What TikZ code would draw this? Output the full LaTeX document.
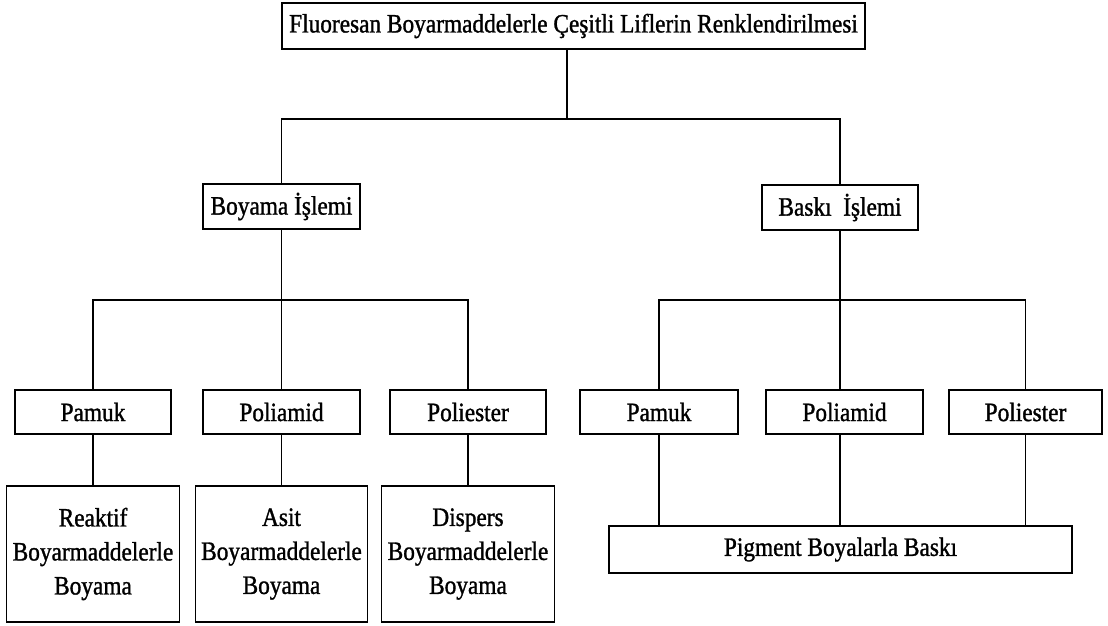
\documentclass[tikz,border=0pt]{standalone}
\usepackage{fontspec}
\setmainfont{Liberation Serif}[FakeStretch=0.88,FakeBold=1.2]
\begin{document}
\begin{tikzpicture}[x=1pt,y=-1pt,
  box/.style={draw=black,line width=1.4pt,inner sep=0pt,align=center,
    font=\fontsize{26.5}{34}\selectfont},
  conn/.style={draw=black,line width=1.4pt}]
\useasboundingbox (0,0) rectangle (1108,625);
% nodes
\node[box,minimum width=583,minimum height=46] (top) at (573.5,26) {Fluoresan Boyarmaddelerle Çeşitli Liflerin Renklendirilmesi};
\node[box,minimum width=157,minimum height=45] (boy) at (281.5,206.5) {Boyama İşlemi};
\node[box,minimum width=156,minimum height=45] (bas) at (840,207.5) {Baskı\ \ İşlemi};
\node[box,minimum width=156,minimum height=44] (lpam) at (93,412) {Pamuk};
\node[box,minimum width=157,minimum height=44] (lpol) at (281.5,412) {Poliamid};
\node[box,minimum width=156,minimum height=44] (lpes) at (468,412) {Poliester};
\node[box,minimum width=158,minimum height=44] (rpam) at (659,412) {Pamuk};
\node[box,minimum width=157,minimum height=44] (rpoa) at (844.5,412) {Poliamid};
\node[box,minimum width=153,minimum height=44] (rpes) at (1025.5,412) {Poliester};
\node[box,minimum width=173,minimum height=136] (reak) at (93,554) {Reaktif\\Boyarmaddelerle\\Boyama};
\node[box,minimum width=172,minimum height=136] (asit) at (281.5,554) {Asit\\Boyarmaddelerle\\Boyama};
\node[box,minimum width=173,minimum height=136] (disp) at (468,554) {Dispers\\Boyarmaddelerle\\Boyama};
\node[box,minimum width=463,minimum height=47] (pig) at (840.5,549.5) {Pigment Boyalarla Baskı};
% connectors
\coordinate (j1) at (567,119);
\coordinate (h1) at (281.5,300);
\coordinate (h2) at (840,300);
\draw[conn] (top.south -| j1) -- (j1);
\draw[conn] (boy.north) |- (j1) -| (bas.north);
\draw[conn] (boy.south) -- (h1);
\draw[conn] (lpam.north) |- (h1) -| (lpes.north);
\draw[conn] (h1) -- (lpol.north);
\draw[conn] (bas.south) -- (h2);
\draw[conn] (rpam.north) |- (h2) -| (rpes.north);
\draw[conn] (h2) -- (h2 |- rpoa.north);
\draw[conn] (lpam.south) -- (reak.north);
\draw[conn] (lpol.south) -- (asit.north);
\draw[conn] (lpes.south) -- (disp.north);
\draw[conn] (rpam.south) -- (rpam.south |- pig.north);
\draw[conn] (h2 |- rpoa.south) -- (h2 |- pig.north);
\draw[conn] (rpes.south) -- (rpes.south |- pig.north);
\end{tikzpicture}
\end{document}
